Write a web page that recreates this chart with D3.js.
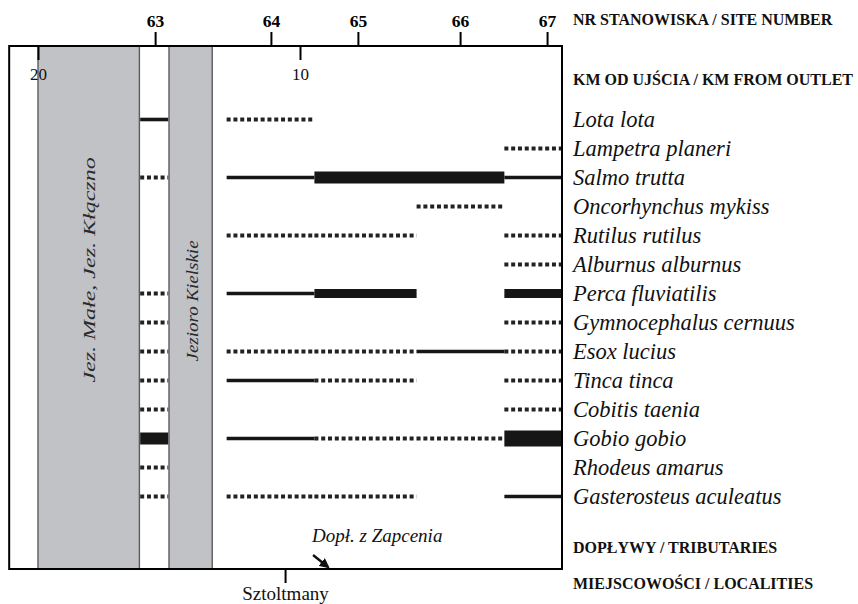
<!DOCTYPE html>
<html>
<head>
<meta charset="utf-8">
<script src="https://cdn.jsdelivr.net/npm/d3@7"></script>
<style>
  html, body { margin: 0; padding: 0; background: #fff; }
  svg { display: block; }
  text { font-family: "Liberation Serif", "DejaVu Serif", serif; }
</style>
</head>
<body>
<svg id="chart" width="858" height="604"></svg>
<script>
// Sampling sites along the river and their distance from the outlet (km)
const siteNumbers = [63, 64, 65, 66, 67];
const siteKm = [15.53, 11.11, 7.79, 3.89, 0.57];

// Stretch of river represented by each site: [upstream km, downstream km]
const reachKm = [[16.1, 15.03], [12.8, 9.45], [9.45, 5.55], [5.55, 2.2], [2.2, 0]];

// Distance axis ticks (km from outlet) and whole river extent shown
const kmTicks = [20, 10];
const riverKm = [21.1, 0];

// Lakes crossed by the river
const lakeNames = ["Jez. Małe, Jez. Kłączno", "Jezioro Kielskie"];
const lakeKm = [[20, 16.13], [15.0, 13.35]];

// Tributary and locality
const tributaryName = "Dopł. z Zapcenia";
const tributaryKm = 8.93;
const localityName = "Sztoltmany";
const localityKm = 10.57;

// Species recorded
const species = [
  "Lota lota", "Lampetra planeri", "Salmo trutta", "Oncorhynchus mykiss",
  "Rutilus rutilus", "Alburnus alburnus", "Perca fluviatilis",
  "Gymnocephalus cernuus", "Esox lucius", "Tinca tinca", "Cobitis taenia",
  "Gobio gobio", "Rhodeus amarus", "Gasterosteus aculeatus"
];

// Abundance class per species at sites 63..67
// 0 absent, 1 sporadic, 2 rare, 3 common, 4 abundant, 5 very abundant
const abundance = [
  [2, 1, 0, 0, 0],
  [0, 0, 0, 0, 1],
  [1, 2, 4, 4, 2],
  [0, 0, 0, 1, 0],
  [0, 1, 1, 0, 1],
  [0, 0, 0, 0, 1],
  [1, 2, 3, 0, 3],
  [1, 0, 0, 0, 1],
  [1, 1, 1, 2, 1],
  [1, 2, 1, 0, 1],
  [1, 0, 0, 0, 1],
  [4, 2, 1, 1, 5],
  [1, 0, 0, 0, 0],
  [1, 1, 1, 0, 2]
];

// Row headings on the right
const headings = {
  site: "NR STANOWISKA / SITE NUMBER",
  km: "KM OD UJŚCIA / KM FROM OUTLET",
  tributary: "DOPŁYWY / TRIBUTARIES",
  locality: "MIEJSCOWOŚCI / LOCALITIES"
};

const svg = d3.select("#chart");
const frameTop = 46, frameBottom = 569;

const x = d3.scaleLinear().domain([20, 10]).range([38, 300]);
const y = d3.scalePoint().domain(species).range([119.5, 496.5]);

const ink = "#161616";
const strokeFor = { 1: 4, 2: 3.6, 3: 9, 4: 12, 5: 16 };

// Lakes
const lakeText = [
  { size: 24, squash: 0.74, shift: 6.5 },
  { size: 19, squash: 0.9, shift: 7.5 }
];
const lakes = svg.append("g");
lakeKm.forEach((k, i) => {
  const x0 = x(k[0]), x1 = x(k[1]);
  lakes.append("rect")
    .attr("x", x0).attr("y", frameTop)
    .attr("width", x1 - x0).attr("height", frameBottom - frameTop)
    .attr("fill", "#c1c2c6");
  [x0, x1].forEach(xx => lakes.append("line")
    .attr("x1", xx).attr("x2", xx).attr("y1", frameTop).attr("y2", frameBottom)
    .attr("stroke", "#5a5b5e").attr("stroke-width", 1.4));
  const cx = (x0 + x1) / 2;
  const cy = i === 0 ? 270 : 301;
  const t = lakeText[i];
  lakes.append("text")
    .attr("transform", `translate(${cx + t.shift},${cy}) rotate(-90) scale(1,${t.squash})`)
    .attr("text-anchor", "middle")
    .attr("font-style", "italic")
    .attr("font-size", t.size)
    .attr("fill", "#2a2a2a")
    .text(lakeNames[i]);
});

// Presence / abundance segments; consecutive solid reaches of equal class are joined
const segs = svg.append("g");
species.forEach((sp, i) => {
  const row = abundance[i];
  let j = 0;
  while (j < row.length) {
    const lvl = row[j];
    if (!lvl) { j++; continue; }
    let end = j;
    if (lvl > 1) while (end + 1 < row.length && row[end + 1] === lvl) end++;
    const line = segs.append("line")
      .attr("x1", x(reachKm[j][0])).attr("x2", x(reachKm[end][1]))
      .attr("y1", y(sp)).attr("y2", y(sp))
      .attr("stroke", ink)
      .attr("stroke-width", strokeFor[lvl]);
    if (lvl === 1) line.attr("stroke-dasharray", "4 2.8").attr("stroke", "#222");
    j = end + 1;
  }
});

// Frame
svg.append("rect")
  .attr("x", x(riverKm[0])).attr("y", frameTop)
  .attr("width", x(riverKm[1]) - x(riverKm[0])).attr("height", frameBottom - frameTop)
  .attr("fill", "none").attr("stroke", "#000").attr("stroke-width", 2);

// Site number axis
const siteAxis = d3.axisTop(x)
  .tickValues(siteKm)
  .tickFormat((d, i) => siteNumbers[i])
  .tickSize(14).tickPadding(5);
const gSite = svg.append("g").attr("transform", `translate(0,${frameTop})`).call(siteAxis);
gSite.select(".domain").remove();
gSite.selectAll(".tick line").attr("stroke", "#000").attr("stroke-width", 2);
gSite.selectAll(".tick text")
  .attr("font-family", "Liberation Serif, serif")
  .attr("font-weight", "bold").attr("font-size", 17.5).attr("fill", "#000");

// Distance axis
const kmAxis = d3.axisBottom(x).tickValues(kmTicks).tickFormat(d3.format("d"))
  .tickSize(14).tickPadding(8);
const gKm = svg.append("g").attr("transform", `translate(0,${frameTop})`).call(kmAxis);
gKm.select(".domain").remove();
gKm.selectAll(".tick line").attr("stroke", "#000").attr("stroke-width", 2);
gKm.selectAll(".tick text")
  .attr("font-family", "Liberation Serif, serif")
  .attr("font-size", 17).attr("fill", "#111");

// Locality axis
const locAxis = d3.axisBottom(x).tickValues([localityKm]).tickFormat(() => localityName)
  .tickSize(14).tickPadding(4);
const gLoc = svg.append("g").attr("transform", `translate(0,${frameBottom})`).call(locAxis);
gLoc.select(".domain").remove();
gLoc.selectAll(".tick line").attr("stroke", "#000").attr("stroke-width", 2);
gLoc.selectAll(".tick text")
  .attr("font-family", "Liberation Serif, serif")
  .attr("font-size", 19).attr("fill", "#111");

// Tributary label and arrow
svg.append("defs").append("marker")
  .attr("id", "arrowhead").attr("viewBox", "0 0 10 10")
  .attr("refX", 8).attr("refY", 5)
  .attr("markerWidth", 4.2).attr("markerHeight", 4.2)
  .attr("orient", "auto")
  .append("path").attr("d", "M0,0 L10,5 L0,10 Z").attr("fill", "#111");
const tx = x(tributaryKm);
svg.append("line")
  .attr("x1", tx - 15).attr("y1", 555).attr("x2", tx).attr("y2", 567)
  .attr("stroke", "#111").attr("stroke-width", 2.4)
  .attr("marker-end", "url(#arrowhead)");
svg.append("text")
  .attr("x", tx - 16).attr("y", 542)
  .attr("font-style", "italic").attr("font-size", 19).attr("fill", "#111")
  .text(tributaryName);

// Species names
const labelX = 573;
svg.append("g").selectAll("text").data(species).join("text")
  .attr("x", labelX).attr("y", d => y(d) + 7)
  .attr("font-style", "italic").attr("font-size", 22.5).attr("fill", "#111")
  .text(d => d);

// Headings
const headRows = [
  [headings.site, 25], [headings.km, 85],
  [headings.tributary, 553], [headings.locality, 589]
];
svg.append("g").selectAll("text").data(headRows).join("text")
  .attr("x", labelX).attr("y", d => d[1])
  .attr("font-weight", "bold").attr("font-size", 16).attr("fill", "#111")
  .text(d => d[0]);
</script>
</body>
</html>
